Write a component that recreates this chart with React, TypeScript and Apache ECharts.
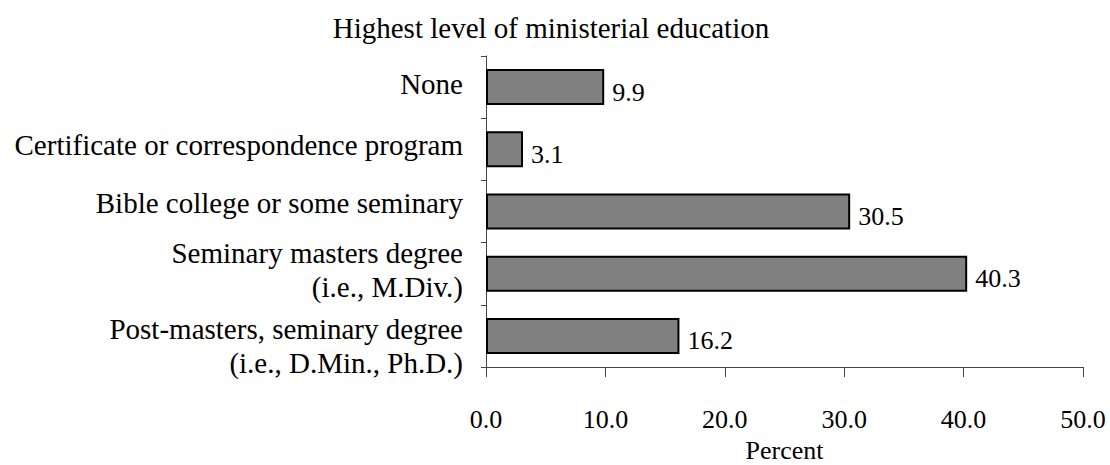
import React, { useEffect, useRef } from "react";
import * as echarts from "echarts";

const categories = [
  "None",
  "Certificate or correspondence program",
  "Bible college or some seminary",
  "Seminary masters degree\n(i.e., M.Div.)",
  "Post-masters, seminary degree\n(i.e., D.Min., Ph.D.)",
];
const percents = [9.9, 3.1, 30.5, 40.3, 16.2];
const titleText = "Highest level of ministerial education";
const xAxisName = "Percent";

// vertical nudges of the category labels (pixels, + = down), matching the reference layout
const labelNudges = [-3, -4, -9, -4, 10];

const FONT = "Liberation Serif, Times New Roman, serif";

export default function App() {
  const ref = useRef<HTMLDivElement>(null);
  useEffect(() => {
    if (!ref.current) return;
    const chart = echarts.init(ref.current, null, { renderer: "svg" });
    const catLabel = (value: string) => {
      const i = categories.indexOf(value);
      const n = i >= 0 ? labelNudges[i] : 0;
      const lines = value.split("\n").map((l) => `{t|${l}}`);
      if (n > 0) {
        lines.unshift(`{p${2 * n}| }`);
      } else if (n < 0) {
        lines.push(`{p${-2 * n}| }`);
      }
      return lines.join("\n");
    };
    const rich: Record<string, any> = {
      t: { fontFamily: FONT, fontSize: 29, lineHeight: 34, color: "#000" },
    };
    labelNudges.forEach((n) => {
      const h = Math.abs(2 * n);
      if (h > 0) rich["p" + h] = { fontSize: 1, lineHeight: h, fontFamily: FONT };
    });
    chart.setOption({
      animation: false,
      backgroundColor: "#ffffff",
      textStyle: { fontFamily: FONT },
      title: {
        text: titleText,
        left: 546,
        top: 8,
        textAlign: "center",
        textStyle: { fontFamily: FONT, fontSize: 29, fontWeight: "normal", color: "#000" },
      },
      grid: { left: 486, right: 27, top: 56, bottom: 98, containLabel: false, outerBoundsMode: "none" },
      xAxis: {
        type: "value",
        min: 0,
        max: 50,
        interval: 10,
        name: xAxisName,
        nameLocation: "middle",
        nameGap: 70,
        nameTextStyle: { fontFamily: FONT, fontSize: 26, color: "#000" },
        axisLine: { show: true, lineStyle: { color: "#444", width: 1 } },
        axisTick: { show: true, length: 10, lineStyle: { color: "#444" } },
        splitLine: { show: false },
        axisLabel: {
          margin: 39,
          fontFamily: FONT,
          fontSize: 26,
          color: "#000",
          formatter: (v: number) => v.toFixed(1),
        },
      },
      yAxis: {
        type: "category",
        data: categories,
        inverse: true,
        axisLine: { show: true, lineStyle: { color: "#444", width: 1 } },
        axisTick: { show: true, length: 5, lineStyle: { color: "#444" } },
        axisLabel: {
          interval: 0,
          margin: 23,
          fontFamily: FONT,
          fontSize: 29,
          lineHeight: 34,
          color: "#000",
          align: "right",
          formatter: catLabel,
          rich,
        },
      },
      series: [
        {
          type: "bar",
          data: percents,
          barWidth: 36,
          itemStyle: { color: "#808080", borderColor: "#000", borderWidth: 2 },
          label: {
            show: true,
            position: "right",
            distance: 8,
            offset: [0, 5],
            fontFamily: FONT,
            fontSize: 26,
            color: "#000",
            formatter: (p: any) => Number(p.value).toFixed(1),
          },
        },
      ],
    });
    return () => chart.dispose();
  }, []);
  return <div ref={ref} style={{ width: 1110, height: 465, position: "absolute", left: 0, top: 0 }} />;
}
